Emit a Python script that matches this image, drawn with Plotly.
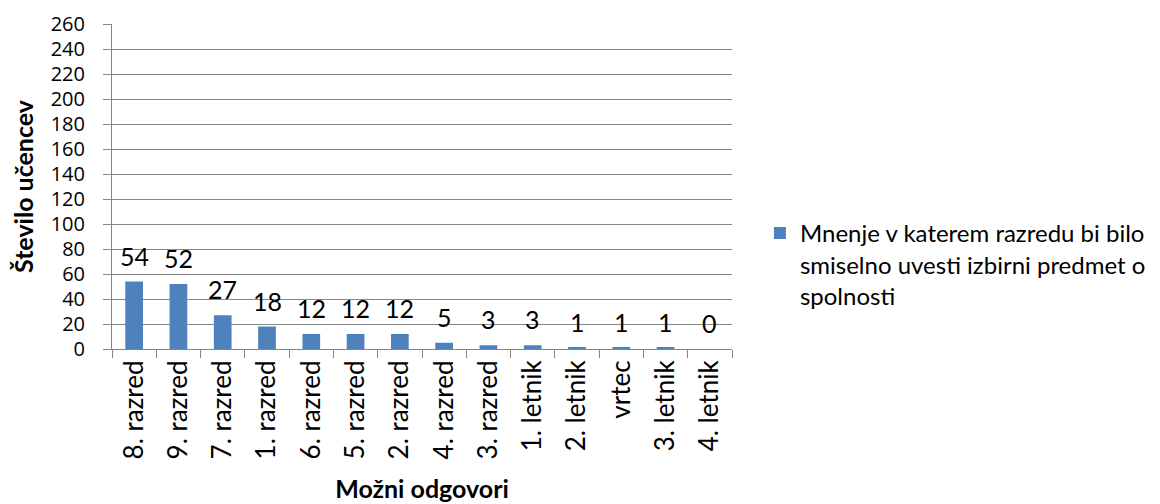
import plotly.graph_objects as go

categories = ["8. razred", "9. razred", "7. razred", "1. razred", "6. razred",
              "5. razred", "2. razred", "4. razred", "3. razred", "1. letnik",
              "2. letnik", "vrtec", "3. letnik", "4. letnik"]
values = [54, 52, 27, 18, 12, 12, 12, 5, 3, 3, 1, 1, 1, 0]
series_name = "Mnenje v katerem razredu bi bilo<br>smiselno uvesti izbirni predmet o<br>spolnosti"

FONT = "Lato"
SIZE = 25
AXIS_GREY = "#868686"

fig = go.Figure()
fig.add_trace(go.Bar(
    x=categories,
    y=values,
    name=series_name,
    marker=dict(color="#4F81BD", line=dict(width=0)),
    showlegend=True,
))

# data labels above the bars
for cat, val in zip(categories, values):
    fig.add_annotation(x=cat, y=val, text=str(val), showarrow=False,
                       yshift=26, font=dict(family=FONT, size=SIZE, color="#000000"))

# page body has an 8px margin, so margins are shifted by 8px
fig.update_layout(
    width=1160,
    height=504,
    margin=dict(l=104, r=436, t=16, b=163, autoexpand=False),
    paper_bgcolor="white",
    plot_bgcolor="white",
    bargap=0.6,
    font=dict(family=FONT, size=SIZE, color="#000000"),
    legend=dict(
        x=1.045, y=0.425, xanchor="left", yanchor="top",
        valign="top", font=dict(family=FONT, size=24),
        itemwidth=30, tracegroupgap=0,
    ),
)

fig.update_yaxes(
    range=[0, 260], dtick=20, tick0=0,
    showgrid=True, gridcolor=AXIS_GREY, gridwidth=1,
    showline=True, linecolor=AXIS_GREY, linewidth=1,
    ticks="outside", ticklen=8, tickcolor=AXIS_GREY,
    ticklabelstandoff=14, ticklabeloverflow="allow",
    zeroline=False,
    tickfont=dict(family="Open Sans", size=20),
    title=dict(text="<b>Število učencev</b>", font=dict(family=FONT, size=SIZE), standoff=12),
)
fig.update_xaxes(
    showline=True, linecolor=AXIS_GREY, linewidth=1,
    ticks="outside", ticklen=8, tickcolor=AXIS_GREY, tickson="boundaries",
    tickangle=-90,
    tickfont=dict(family=FONT, size=26),
    title=dict(text="<b>Možni odgovori</b>", font=dict(family=FONT, size=SIZE), standoff=22),
)

fig.write_html("out.html")
